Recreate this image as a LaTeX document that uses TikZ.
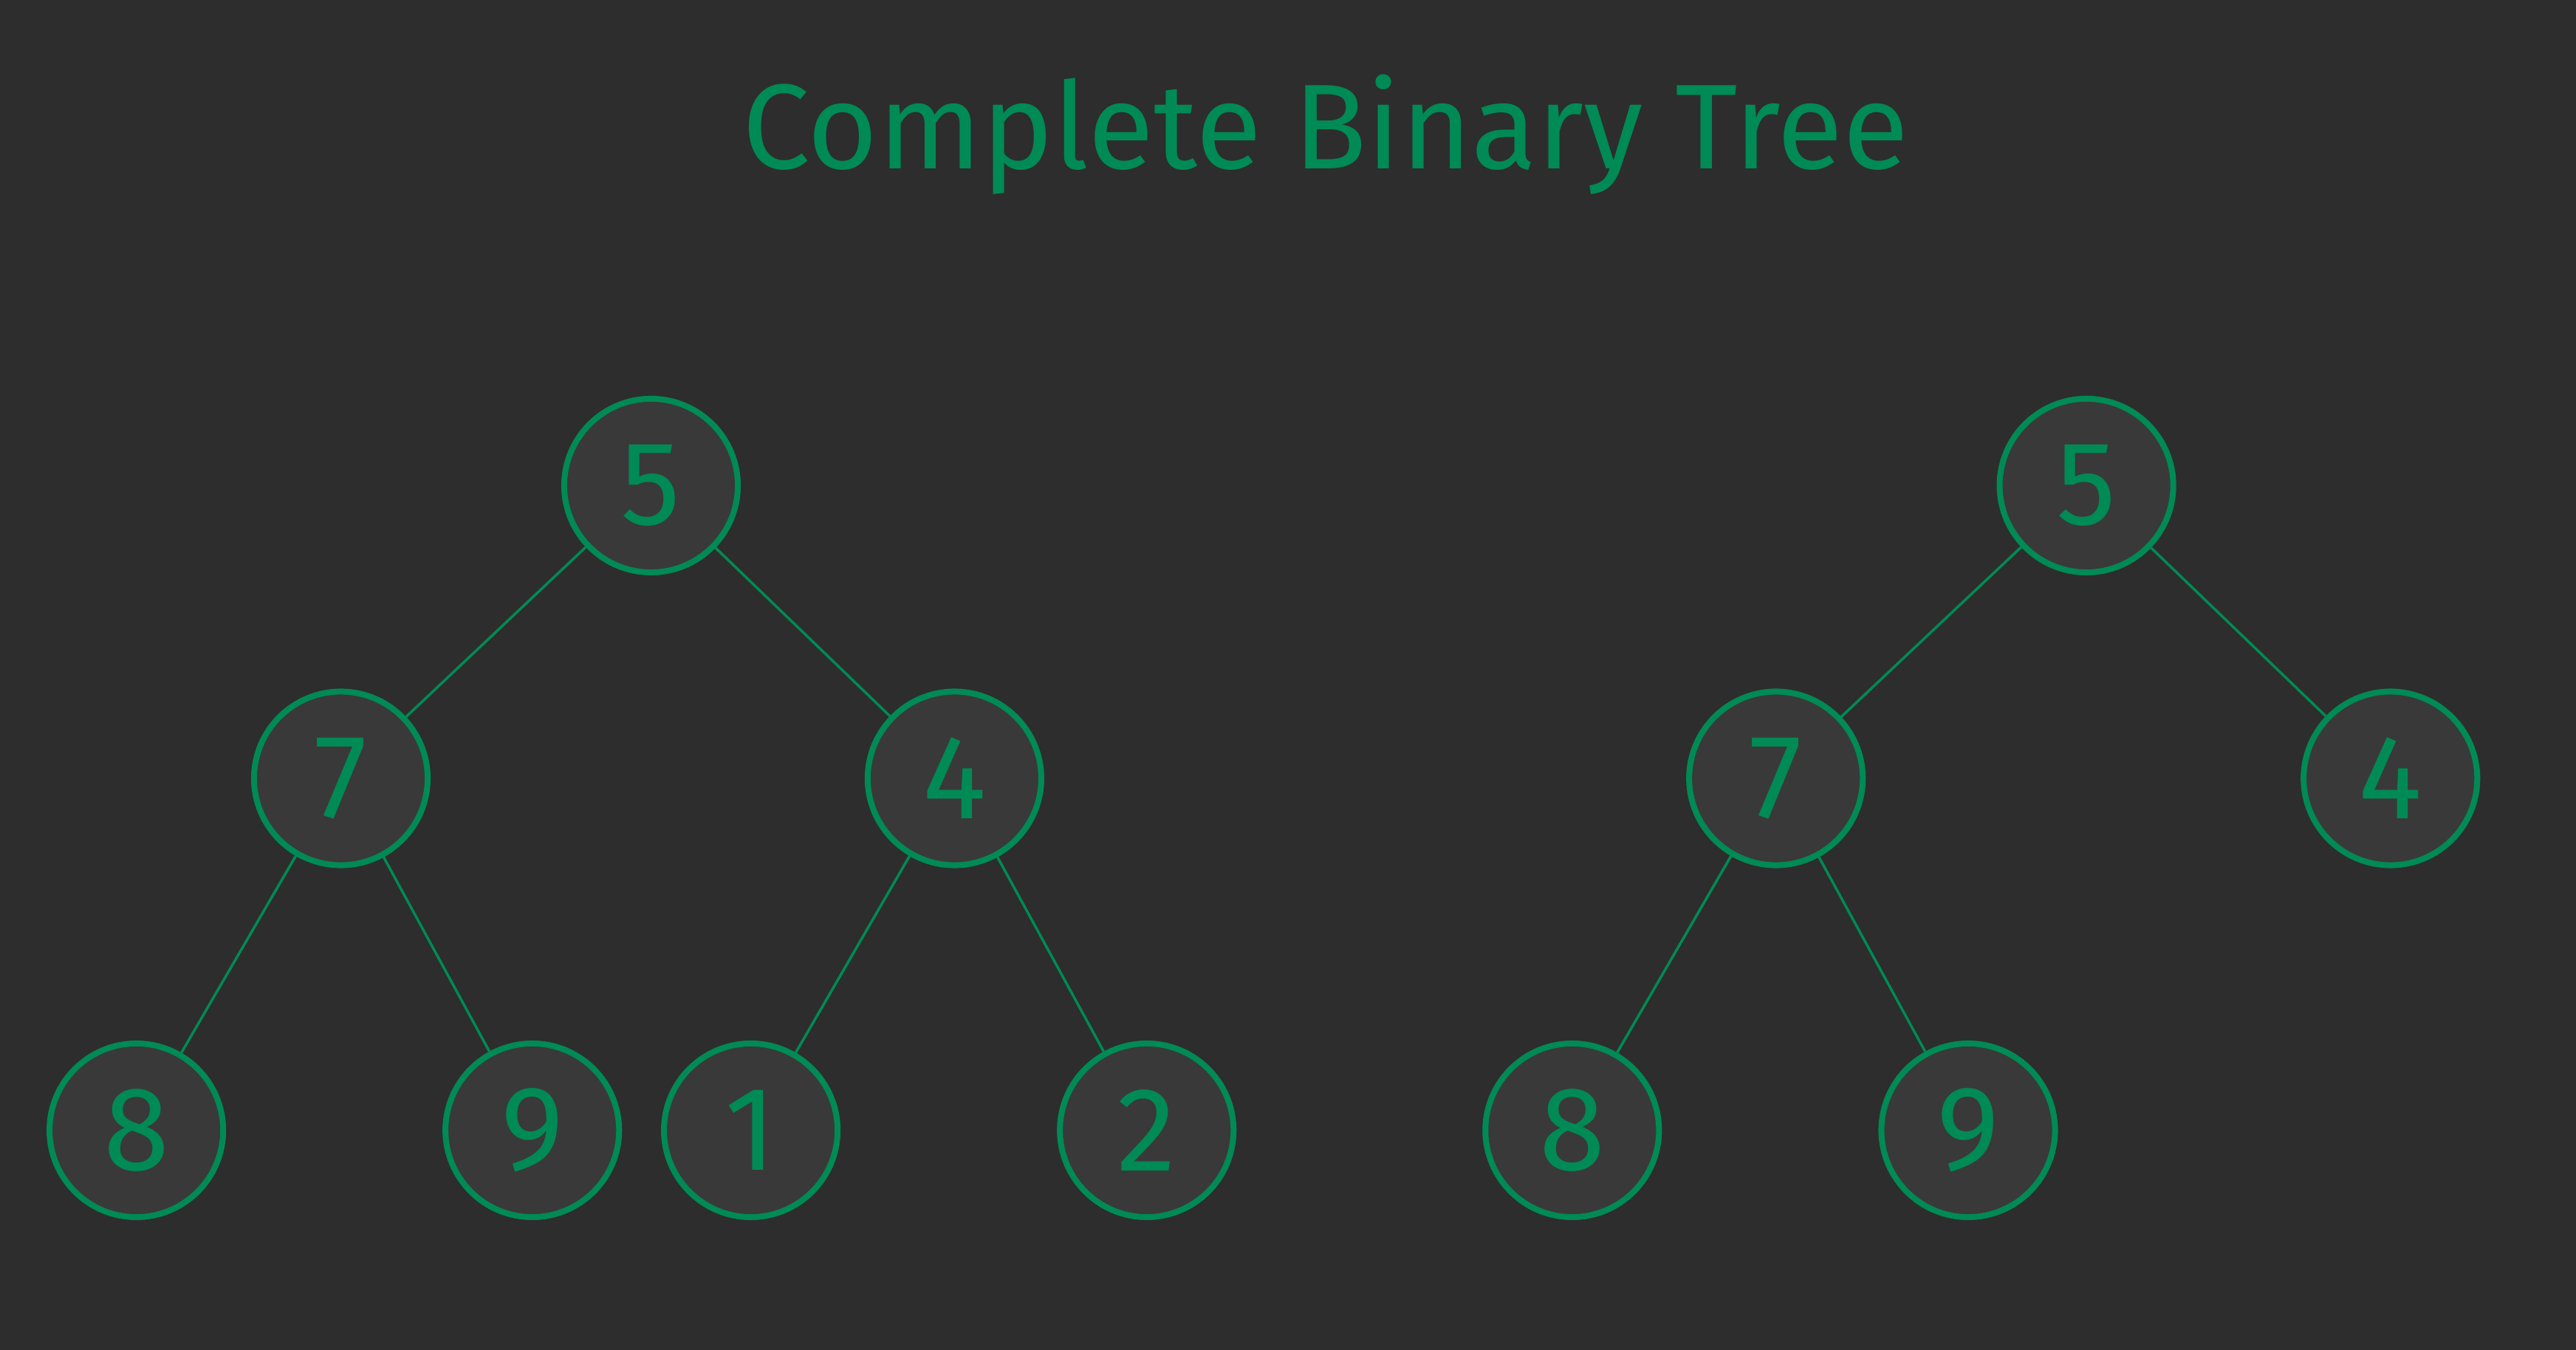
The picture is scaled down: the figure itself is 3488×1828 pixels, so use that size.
\documentclass[tikz,border=0pt]{standalone}
\usepackage{fontspec}
\setmainfont{Fira Sans}
\definecolor{bg}{HTML}{2D2D2D}
\definecolor{nodefill}{HTML}{393939}
\definecolor{grn}{HTML}{008A55}
\begin{document}
\begin{tikzpicture}[x=0.01cm,y=-0.01cm,
  treenode/.style={circle,draw=grn,fill=nodefill,line width=0.08cm,minimum size=2.35cm,inner sep=0pt,text=grn,font=\fontsize{46}{50}\selectfont},
  edge/.style={draw=grn,line width=0.035cm}]
\fill[bg] (0,0) rectangle (3488,1828);
\useasboundingbox (0,0) rectangle (3488,1828);
\node[text=grn,font=\fontsize{46.5}{52}\selectfont,anchor=base] (title) at (1795,229) {Complete Binary Tree};
% left tree
\node[treenode] (L5) at (881.5,657.5) {5};
\node[treenode] (L7) at (461.5,1054) {7};
\node[treenode] (L4) at (1292.4,1054) {4};
\node[treenode] (L8) at (184.6,1530.5) {8};
\node[treenode] (L9) at (720.7,1530.5) {9};
\node[treenode] (L1) at (1016.6,1530.5) {1};
\node[treenode] (L2) at (1552.7,1530.5) {2};
% right tree
\node[treenode] (R5) at (2825.1,657.5) {5};
\node[treenode] (R7) at (2404.7,1054) {7};
\node[treenode] (R4) at (3236.7,1054) {4};
\node[treenode] (R8) at (2128.8,1530.5) {8};
\node[treenode] (R9) at (2665,1530.5) {9};
\draw[edge] (L5) -- (L7);
\draw[edge] (L5) -- (L4);
\draw[edge] (L7) -- (L8);
\draw[edge] (L7) -- (L9);
\draw[edge] (L4) -- (L1);
\draw[edge] (L4) -- (L2);
\draw[edge] (R5) -- (R7);
\draw[edge] (R5) -- (R4);
\draw[edge] (R7) -- (R8);
\draw[edge] (R7) -- (R9);
\end{tikzpicture}
\end{document}
